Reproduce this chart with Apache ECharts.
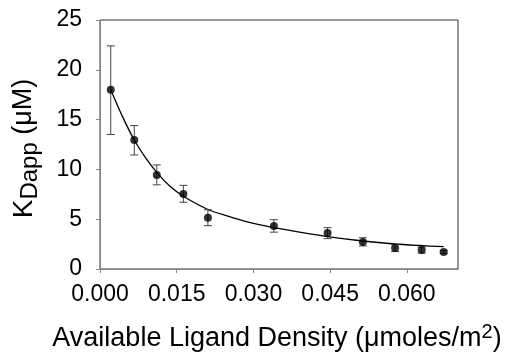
<!DOCTYPE html>
<html>
<head>
<meta charset="utf-8">
<script src="https://cdn.jsdelivr.net/npm/echarts@6/dist/echarts.min.js"></script>
<style>html,body{margin:0;padding:0;background:#fff}#c{width:505px;height:352px}</style>
</head>
<body>
<div id="c"></div>
<script>
// measured points
var xData = [0.0021, 0.0067, 0.0111, 0.0163, 0.0211, 0.0340, 0.0445, 0.0514, 0.0577, 0.0629, 0.0672];
var yData = [18.0, 12.95, 9.45, 7.53, 5.15, 4.32, 3.62, 2.71, 2.12, 1.90, 1.70];
var errHigh = [22.4, 14.4, 10.45, 8.4, 5.95, 4.95, 4.15, 3.14, 2.45, 2.2, 1.85];
var errLow = [13.5, 11.45, 8.45, 6.7, 4.35, 3.7, 3.05, 2.31, 1.75, 1.6, 1.55];
// fitted curve
var curveX = [0.0021, 0.0044, 0.0067, 0.0090, 0.0111, 0.0137, 0.0163, 0.0210, 0.0250, 0.0290, 0.0340, 0.0390, 0.0445, 0.0514, 0.0577, 0.0625, 0.0672];
var curveY = [18.0, 15.3, 12.95, 11.1, 9.7, 8.3, 7.3, 6.0, 5.3, 4.7, 4.15, 3.7, 3.25, 2.81, 2.51, 2.36, 2.24];
// ticks
var xTicks = [0, 0.015, 0.030, 0.045, 0.060];
var yTicks = [0, 5, 10, 15, 20, 25];

var FONT = 'Liberation Sans, Arial, sans-serif';
var chart = echarts.init(document.getElementById('c'));
var pts = xData.map(function (x, i) { return [x, yData[i]]; });
var errs = xData.map(function (x, i) { return [x, errLow[i], errHigh[i]]; });
var curve = curveX.map(function (x, i) { return [x, curveY[i]]; });

chart.setOption({
  animation: false,
  grid: { left: 100, right: 47, top: 20, bottom: 83, show: true, borderColor: '#333', borderWidth: 1,
    containLabel: false, outerBoundsMode: 'none' },
  xAxis: {
    type: 'value', min: 0, max: 0.07,
    splitLine: { show: false },
    axisLine: { lineStyle: { color: '#888' } },
    axisTick: { length: 4, lineStyle: { color: '#888' }, customValues: xTicks },
    axisLabel: { customValues: xTicks, color: '#000', fontSize: 23, fontFamily: FONT, margin: 14,
      formatter: function (v) { return v.toFixed(3); } },
    name: '{n|Available Ligand Density (μmoles/m}{sup|2}{n|)}',
    nameLocation: 'middle', nameGap: 53,
    nameTextStyle: { padding: [0, 0, 0, -4], rich: {
      n: { fontSize: 27, fontFamily: FONT, color: '#000', lineHeight: 30, verticalAlign: 'bottom' },
      sup: { fontSize: 20, fontFamily: FONT, color: '#000', lineHeight: 30, verticalAlign: 'top' }
    } }
  },
  yAxis: {
    type: 'value', min: 0, max: 25, interval: 5,
    splitLine: { show: false },
    axisLine: { show: true, lineStyle: { color: '#888' } },
    axisTick: { show: true, length: 4, lineStyle: { color: '#888' } },
    axisLabel: { color: '#000', fontSize: 23, fontFamily: FONT, margin: 18 },
    name: '{k|K}{sub|Dapp}{n| (μM)}',
    nameLocation: 'middle', nameGap: 60, nameRotate: 90,
    nameTextStyle: { padding: [0, 8, 0, 0], rich: {
      k: { fontSize: 28, fontFamily: FONT, color: '#000', lineHeight: 30, verticalAlign: 'top' },
      sub: { fontSize: 24, fontFamily: FONT, color: '#000', lineHeight: 30, verticalAlign: 'top', padding: [8, 0, 0, 0] },
      n: { fontSize: 27, fontFamily: FONT, color: '#000', lineHeight: 30, verticalAlign: 'top' }
    } }
  },
  series: [
    {
      type: 'line', data: curve, smooth: 0.3, showSymbol: false, symbol: 'none',
      lineStyle: { color: '#000', width: 1.3 }, z: 2
    },
    {
      type: 'custom', data: errs, z: 3,
      renderItem: function (params, api) {
        var x = api.value(0);
        var lo = api.coord([x, api.value(1)]);
        var hi = api.coord([x, api.value(2)]);
        var w = 4;
        var st = { stroke: '#444', lineWidth: 1 };
        return { type: 'group', children: [
          { type: 'line', shape: { x1: lo[0], y1: lo[1], x2: hi[0], y2: hi[1] }, style: st },
          { type: 'line', shape: { x1: hi[0] - w, y1: hi[1], x2: hi[0] + w, y2: hi[1] }, style: st },
          { type: 'line', shape: { x1: lo[0] - w, y1: lo[1], x2: lo[0] + w, y2: lo[1] }, style: st }
        ] };
      }
    },
    {
      type: 'scatter', data: pts, symbol: 'circle', symbolSize: 8,
      itemStyle: { color: '#000' }, z: 4
    }
  ]
});
</script>
</body>
</html>
